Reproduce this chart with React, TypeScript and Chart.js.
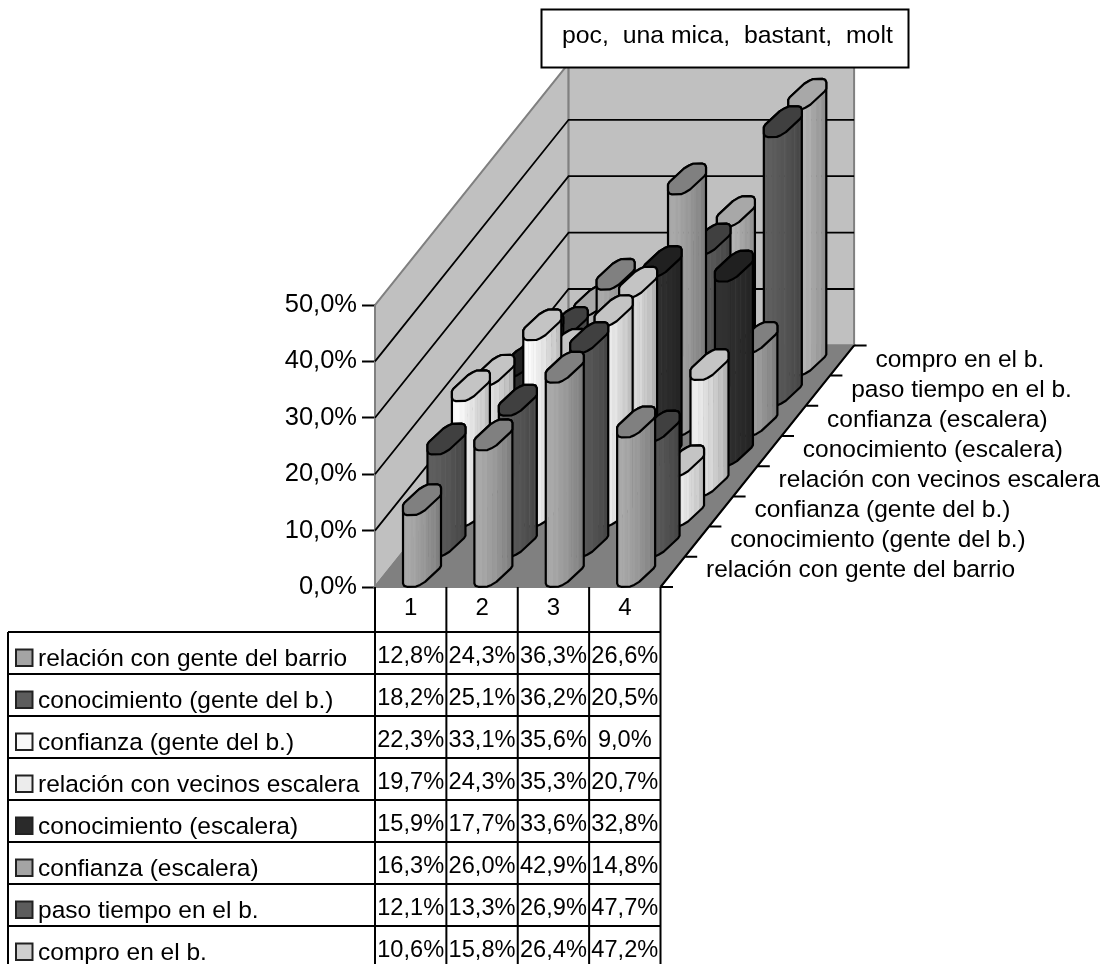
import React, { useEffect, useRef } from "react";
import { Chart, registerables } from "chart.js";

Chart.register(...registerables);

const categories = ["1", "2", "3", "4"];
const seriesNames = [
  "relación con gente del barrio",
  "conocimiento (gente del b.)",
  "confianza (gente del b.)",
  "relación con vecinos escalera",
  "conocimiento (escalera)",
  "confianza (escalera)",
  "paso tiempo en el b.",
  "compro en el b.",
];
const relacionBarrio = [12.8, 24.3, 36.3, 26.6];
const conocimientoBarrio = [18.2, 25.1, 36.2, 20.5];
const confianzaBarrio = [22.3, 33.1, 35.6, 9.0];
const relacionEscalera = [19.7, 24.3, 35.3, 20.7];
const conocimientoEscalera = [15.9, 17.7, 33.6, 32.8];
const confianzaEscalera = [16.3, 26.0, 42.9, 14.8];
const pasoTiempo = [12.1, 13.3, 26.9, 47.7];
const comproBarrio = [10.6, 15.8, 26.4, 47.2];
const seriesValues = [
  relacionBarrio,
  conocimientoBarrio,
  confianzaBarrio,
  relacionEscalera,
  conocimientoEscalera,
  confianzaEscalera,
  pasoTiempo,
  comproBarrio,
];
const swatchColors = ["#a4a4a4", "#5c5c5c", "#f8f8f8", "#ececec", "#2a2a2a", "#a4a4a4", "#5c5c5c", "#cfcfcf"];
const sideColors = ["#a6a6a6", "#5c5c5c", "#f6f6f6", "#e8e8e8", "#303030", "#a6a6a6", "#5c5c5c", "#bcbcbc"];
const capColors = ["#808080", "#404040", "#c4c4c4", "#c4c4c4", "#202020", "#808080", "#404040", "#a8a8a8"];
const titleText = "poc,  una mica,  bastant,  molt";

const FONT = '"Liberation Sans", Arial, sans-serif';
const rowDx = 24.2;
const rowDy = 30.2;
const barRowDx = 24.45;
const shadeProfile = [1, 1.02, 1.02, 0.99, 1, 0.96, 0.95, 0.92, 0.93, 0.88, 0.87, 0.83, 0.84, 0.78, 0.76];
// outline of the cylinder section in its slanted floor cell, relative to its centre
const capTop: [number, number][] = [
  [-19, 5.5], [-17.5, 3], [-3, -10.5], [2, -13.5], [6, -15.2], [15, -15.4], [17.8, -14.5], [19, -12],
];
const capBottom: [number, number][] = [
  [19, -5.5], [17.5, -3], [3, 10.5], [-2, 13.5], [-6, 15.2], [-15, 15.4], [-17.8, 14.5], [-19, 12],
];

const fmt = (v: number) => v.toFixed(1).replace(".", ",") + "%";

function shade(hex: string, f: number) {
  const n = parseInt(hex.slice(1, 3), 16);
  const c = Math.max(0, Math.min(255, Math.round(n * f)));
  return `rgb(${c},${c},${c})`;
}

function drawCylinder(ctx: CanvasRenderingContext2D, x: number, top: number, base: number, color: string, cap: string) {
  const side = new Path2D();
  capBottom.forEach(([px, py], i) => {
    if (i === 0) side.moveTo(x + px, base + py);
    else side.lineTo(x + px, base + py);
  });
  capTop.forEach(([px, py]) => side.lineTo(x + px, top + py));
  side.closePath();

  const left = x - 19;
  const right = x + 19;
  ctx.save();
  ctx.clip(side);
  const n = shadeProfile.length;
  const sw = (right - left) / n;
  shadeProfile.forEach((f, i) => {
    ctx.fillStyle = shade(color, f);
    ctx.fillRect(left + i * sw, top - 40, sw + 0.5, base - top + 80);
  });
  ctx.restore();

  ctx.lineWidth = 2.2;
  ctx.lineJoin = "round";
  ctx.strokeStyle = "#000";
  ctx.stroke(side);

  const capPath = new Path2D();
  capTop.concat(capBottom).forEach(([px, py], i) => {
    if (i === 0) capPath.moveTo(x + px, top + py);
    else capPath.lineTo(x + px, top + py);
  });
  capPath.closePath();
  ctx.fillStyle = cap;
  ctx.fill(capPath);
  ctx.stroke(capPath);
}

const scene3d = {
  id: "scene3d",
  beforeDatasetsDraw(chart: any) {
    const { ctx, chartArea: ca, scales } = chart;
    const rows = chart.data.datasets.length;
    const dx = rowDx * rows;
    const dy = rowDy * rows;
    const yS = scales.y;
    ctx.save();
    // walls
    ctx.lineWidth = 2;
    ctx.strokeStyle = "#808080";
    ctx.fillStyle = "#c0c0c0";
    ctx.beginPath();
    ctx.moveTo(ca.left, ca.bottom);
    ctx.lineTo(ca.left, ca.top);
    ctx.lineTo(ca.left + dx, ca.top - dy);
    ctx.lineTo(ca.left + dx, ca.bottom - dy);
    ctx.closePath();
    ctx.fill();
    ctx.stroke();
    ctx.beginPath();
    ctx.rect(ca.left + dx, ca.top - dy, ca.right - ca.left, ca.bottom - ca.top);
    ctx.fill();
    ctx.stroke();
    // floor
    ctx.fillStyle = "#808080";
    ctx.beginPath();
    ctx.moveTo(ca.left, ca.bottom);
    ctx.lineTo(ca.right, ca.bottom);
    ctx.lineTo(ca.right + dx, ca.bottom - dy);
    ctx.lineTo(ca.left + dx, ca.bottom - dy);
    ctx.closePath();
    ctx.fill();
    ctx.stroke();
    // gridlines
    ctx.strokeStyle = "#000";
    ctx.lineWidth = 1.8;
    yS.ticks.forEach((t: any) => {
      if (t.value === 0 || t.value === yS.max) return;
      const p = yS.getPixelForValue(t.value);
      ctx.beginPath();
      ctx.moveTo(ca.left, p);
      ctx.lineTo(ca.left + dx, p - dy);
      ctx.lineTo(ca.right + dx, p - dy);
      ctx.stroke();
    });
    // depth axis
    ctx.strokeStyle = "#000";
    ctx.lineWidth = 2;
    ctx.beginPath();
    ctx.moveTo(ca.right, ca.bottom);
    ctx.lineTo(ca.right + dx, ca.bottom - dy);
    for (let r = 0; r <= rows; r++) {
      ctx.moveTo(ca.right + r * rowDx, ca.bottom - r * rowDy);
      ctx.lineTo(ca.right + r * rowDx + 12.5, ca.bottom - r * rowDy);
    }
    ctx.stroke();
    ctx.fillStyle = "#000";
    ctx.font = `24.5px ${FONT}`;
    ctx.textBaseline = "alphabetic";
    ctx.textAlign = "left";
    chart.data.datasets.forEach((d: any, r: number) => {
      ctx.fillText(d.label, ca.right + 45.5 + r * rowDx, ca.bottom - 10 - r * 30);
    });
    // cylinders, back to front
    for (let r = rows - 1; r >= 0; r--) {
      const meta = chart.getDatasetMeta(r);
      meta.data.forEach((el: any) => {
        const ox = (r + 0.5) * barRowDx - 0.9;
        const oy = (r + 0.5) * rowDy;
        drawCylinder(ctx, el.x + ox, el.y - oy, el.base - oy, sideColors[r], capColors[r]);
      });
    }
    ctx.restore();
  },
  beforeDatasetDraw() {
    return false;
  },
  afterDraw(chart: any) {
    const { ctx, chartArea: ca, scales } = chart;
    const xS = scales.x;
    const rows = chart.data.datasets.length;
    const H = chart.height;
    const tableTop = ca.bottom + 45;
    const rowH = 42;
    const tableLeft = 8;
    ctx.save();
    ctx.strokeStyle = "#000";
    ctx.lineWidth = 2;
    ctx.beginPath();
    const n = chart.data.labels.length;
    for (let i = 0; i <= n; i++) {
      const x = xS.left + (i * (xS.right - xS.left)) / n;
      ctx.moveTo(x, ca.bottom);
      ctx.lineTo(x, H);
    }
    ctx.moveTo(tableLeft, tableTop);
    ctx.lineTo(tableLeft, H);
    for (let r = 0; r < rows; r++) {
      const y = tableTop + r * rowH;
      ctx.moveTo(tableLeft, y);
      ctx.lineTo(xS.right, y);
    }
    ctx.stroke();

    ctx.textBaseline = "alphabetic";
    chart.data.datasets.forEach((d: any, r: number) => {
      const y = tableTop + r * rowH;
      ctx.fillStyle = d.backgroundColor;
      ctx.fillRect(16, y + 17.5, 16.5, 16.5);
      ctx.strokeStyle = "#222";
      ctx.lineWidth = 2;
      ctx.strokeRect(16, y + 17.5, 16.5, 16.5);
      ctx.fillStyle = "#000";
      ctx.textAlign = "left";
      ctx.font = `24.5px ${FONT}`;
      ctx.fillText(d.label, 38, y + 34);
      ctx.textAlign = "center";
      ctx.font = `23.6px ${FONT}`;
      d.data.forEach((v: number, i: number) => {
        ctx.fillText(fmt(v), xS.getPixelForValue(i), y + 31);
      });
    });

    // title box
    ctx.fillStyle = "#fff";
    ctx.fillRect(541.5, 9.5, 367, 58);
    ctx.strokeStyle = "#000";
    ctx.lineWidth = 2;
    ctx.strokeRect(541.5, 9.5, 367, 58);
    ctx.fillStyle = "#000";
    ctx.textAlign = "left";
    ctx.font = `24.8px ${FONT}`;
    ctx.fillText(titleText, 562, 43);
    ctx.restore();
  },
};

export default function App() {
  const ref = useRef<HTMLCanvasElement>(null);
  useEffect(() => {
    document.body.style.margin = "0";
    document.body.style.background = "#fff";
    const chart = new Chart(ref.current as HTMLCanvasElement, {
      type: "bar",
      data: {
        labels: categories,
        datasets: seriesNames.map((label, i) => ({
          label,
          data: seriesValues[i],
          backgroundColor: swatchColors[i],
          grouped: false,
        })),
      } as any,
      plugins: [scene3d as any],
      options: {
        animation: false,
        responsive: false,
        events: [],
        layout: { padding: { left: 275, top: 305, right: 446.5, bottom: 337 } },
        plugins: { legend: { display: false }, tooltip: { enabled: false }, title: { display: false } },
        scales: {
          x: {
            z: 1,
            grid: { display: false, drawTicks: false },
            border: { color: "#000", width: 2 },
            ticks: { color: "#000", font: { family: FONT, size: 24 }, padding: 7, maxRotation: 0 },
            afterFit: (s: any) => {
              s.height = 40;
              s.paddingLeft = 0;
              s.paddingRight = 0;
            },
          },
          y: {
            z: 1,
            min: 0,
            max: 50,
            grid: { drawOnChartArea: false, tickLength: 13, tickColor: "#000", tickWidth: 2 },
            border: { color: "#000", width: 2 },
            ticks: {
              stepSize: 10,
              color: "#000",
              font: { family: FONT, size: 25.5 },
              padding: 5,
              callback: (v: any) => fmt(Number(v)),
            },
            afterFit: (s: any) => {
              s.width = 100;
              s.paddingTop = 0;
              s.paddingBottom = 0;
            },
          },
        },
      } as any,
    });
    return () => chart.destroy();
  }, []);
  return (
    <div style={{ position: "absolute", left: 0, top: 0, width: 1107, height: 964 }}>
      <canvas ref={ref} width={1107} height={964} style={{ display: "block" }} />
    </div>
  );
}
